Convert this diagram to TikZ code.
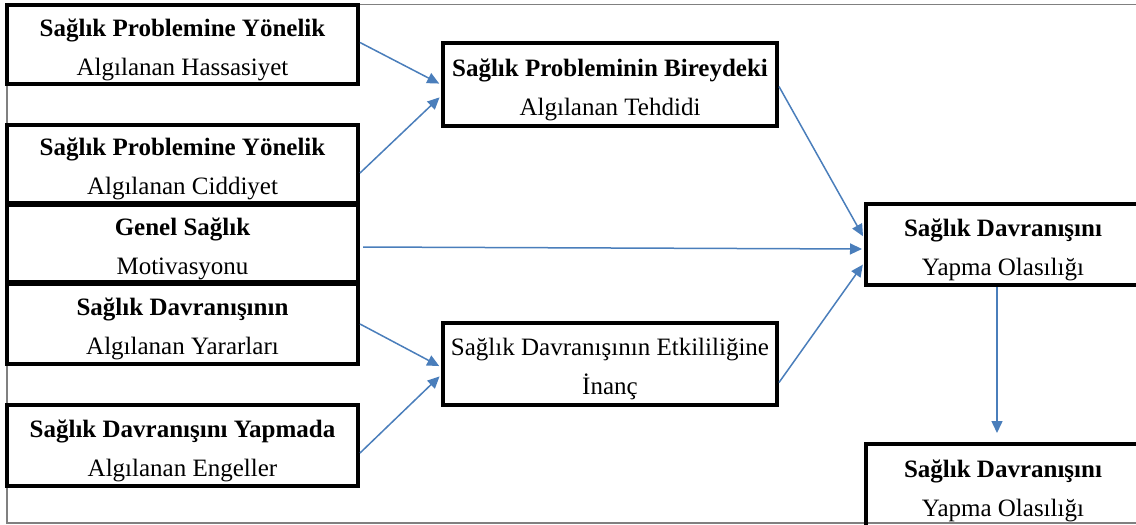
\documentclass[tikz,border=0pt]{standalone}
\usepackage{fontspec}
\setmainfont{Liberation Serif}
\usetikzlibrary{arrows.meta}
\definecolor{okmavi}{HTML}{4A7EBB}
\newcommand\ust{\rule{0pt}{14pt}}

\tikzset{
 kutu/.style={draw=black, line width=2pt, align=center, inner sep=0pt,
   font=\fontsize{12.5}{19.5}\selectfont},
 solkutu/.style={kutu, minimum width=175.5pt},
 ok/.style={draw=okmavi, line width=0.75pt, -{Triangle[length=6pt,width=5.5pt]}, shorten >=1pt},
}

\begin{document}
\begin{tikzpicture}[x=0.5pt,y=-0.5pt]
 \useasboundingbox (0,0) rectangle (1136,525);
 \clip (0,0) rectangle (1136,525);

 % outer frame
 \draw[gray, line width=0.6pt] (7,4.5) rectangle (1150,523);

 % left column
 \node[solkutu, minimum height=39.5pt] (hassas) at (182.5,44.5) {\ust\textbf{Sağlık Problemine Yönelik}\\Algılanan Hassasiyet};
 \node[solkutu, minimum height=39pt] (ciddi) at (182.5,164) {\ust\textbf{Sağlık Problemine Yönelik}\\Algılanan Ciddiyet};
 \node[solkutu, minimum height=38.5pt] (motiv) at (182.5,243.5) {\ust\textbf{Genel Sağlık}\\Motivasyonu};
 \node[solkutu, minimum height=40pt] (yarar) at (182.5,324) {\ust\textbf{Sağlık Davranışının}\\Algılanan Yararları};
 \node[solkutu, minimum height=40.5pt] (engel) at (182.5,445.5) {\ust\textbf{Sağlık Davranışını Yapmada}\\Algılanan Engeller};

 % middle column
 \node[kutu, minimum width=167pt, minimum height=41.5pt] (tehdit) at (610,84.5) {\ust\textbf{Sağlık Probleminin Bireydeki}\\Algılanan Tehdidi};
 \node[kutu, minimum width=167pt, minimum height=41pt] (etkili) at (610,364) {\ust Sağlık Davranışının Etkililiğine\\İnanç};

 % right column
 \node[kutu, minimum width=137pt, minimum height=40.5pt] (olasi) at (1003,244.5) {\ust\textbf{Sağlık Davranışını}\\Yapma Olasılığı};
 \node[kutu, minimum width=137pt, minimum height=42pt] (olasison) at (1003,486) {\ust\textbf{Sağlık Davranışını}\\Yapma Olasılığı};

 % arrows
 \draw[ok] ([yshift=1pt]hassas.east) -- (tehdit.west);
 \draw[ok] ([yshift=-4.5pt]ciddi.east) -- ([yshift=-5.75pt]tehdit.west);
 \draw[ok] ([yshift=-1pt]tehdit.east) -- ([yshift=3.25pt]olasi.west);
 \draw[ok, shorten <=1.5pt] ([yshift=-1.75pt]motiv.east) -- ([yshift=-2.25pt]olasi.west);
 \draw[ok] ([yshift=-9.25pt]etkili.east) -- ([yshift=-9.25pt]olasi.west);
 \draw[ok] (yarar.east) -- ([yshift=-1.5pt]etkili.west);
 \draw[ok] ([yshift=-3.75pt]engel.east) -- ([yshift=-5.5pt]etkili.west);
 \draw[ok, shorten >=4.5pt] ([xshift=-3pt]olasi.south) -- ([xshift=-3pt]olasison.north);

\end{tikzpicture}
\end{document}
